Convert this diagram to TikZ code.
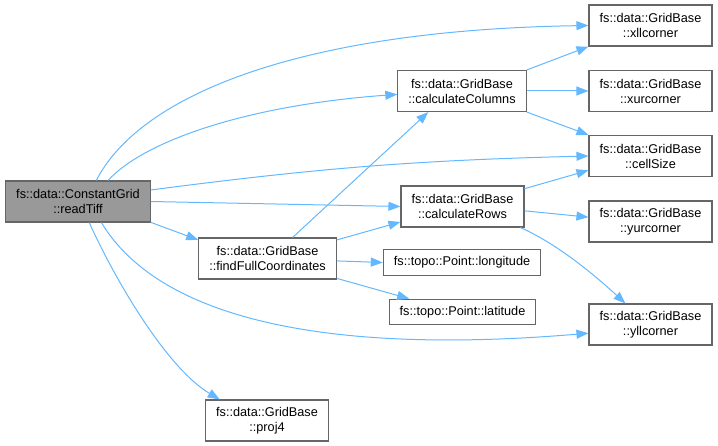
\documentclass[tikz,border=0pt]{standalone}
\usepackage{fontspec}
\setmainfont{Liberation Sans}
\usetikzlibrary{arrows.meta}
\definecolor{edgeblue}{HTML}{63B8FF}
\definecolor{boxgray}{HTML}{666666}
\definecolor{rootgray}{HTML}{999999}
\tikzset{
	fnbox/.style={draw=boxgray, line width=1.1pt, fill=white, inner xsep=10.5pt, inner ysep=6.5pt,
		minimum width=123pt, minimum height=41pt, align=center, font=\fontsize{12.7}{15}\selectfont},
	fnline/.style={fnbox, minimum height=25.5pt},
	rootbox/.style={fnbox, fill=rootgray},
	callarrow/.style={edgeblue, line width=1pt, -{Triangle[length=12pt,width=9pt]}}
}
\begin{document}
\begin{tikzpicture}[x=1pt,y=-1pt]
		
		\useasboundingbox (0,0) rectangle (718,446);
		
		\node[rootbox] (readTiff) at (78,201.5) {fs::data::ConstantGrid\\::readTiff};
		\node[fnbox] (findFull) at (267.5,258.5) {fs::data::GridBase\\::findFullCoordinates};
		\node[fnbox] (proj) at (267,420.5) {fs::data::GridBase\\::proj4};
		\node[fnbox] (calcCols) at (462,91) {fs::data::GridBase\\::calculateColumns};
		\node[fnbox] (calcRows) at (462.5,206.5) {fs::data::GridBase\\::calculateRows};
		\node[fnline] (lon) at (462,262.5) {fs::topo::Point::longitude};
		\node[fnline] (lat) at (462.5,312) {fs::topo::Point::latitude};
		
		\foreach \n/\y in {xllcorner/25.5, xurcorner/91, cellSize/156, yurcorner/221.5, yllcorner/324.5}
		\node[fnbox] (\n) at (650.5,\y) {fs::data::GridBase\\::\n};
		
		\foreach \a/\b in {readTiff.east/calcRows.west, readTiff.-16/findFull.165,
			findFull.40/calcCols.212, findFull.15/calcRows.194, findFull.-2/lon.west,
			findFull.-16/lat.166, calcCols.18/xllcorner.south west, calcCols.east/xurcorner.west,
			calcCols.-18/cellSize.north west, calcRows.16/cellSize.193, calcRows.-4/yurcorner.176}
		\draw[callarrow] (\a) -- (\b);
		
		\draw[callarrow] (readTiff.9) to[bend left=3] (cellSize.west);
		\draw[callarrow] (readTiff.49) .. controls (140,95) and (300,30) .. (xllcorner.west);
		\draw[callarrow] (readTiff.35) .. controls (145,140) and (250,105) .. (calcCols.183);
		\draw[callarrow] (readTiff.-42) .. controls (160,320) and (330,355) .. (yllcorner.188);
		\draw[callarrow] (readTiff.-62) .. controls (120,290) and (170,370) .. (proj.156);
		\draw[callarrow] (calcRows.-20) .. controls (560,245) and (600,280) .. (yllcorner.140);
		
\end{tikzpicture}
\end{document}
